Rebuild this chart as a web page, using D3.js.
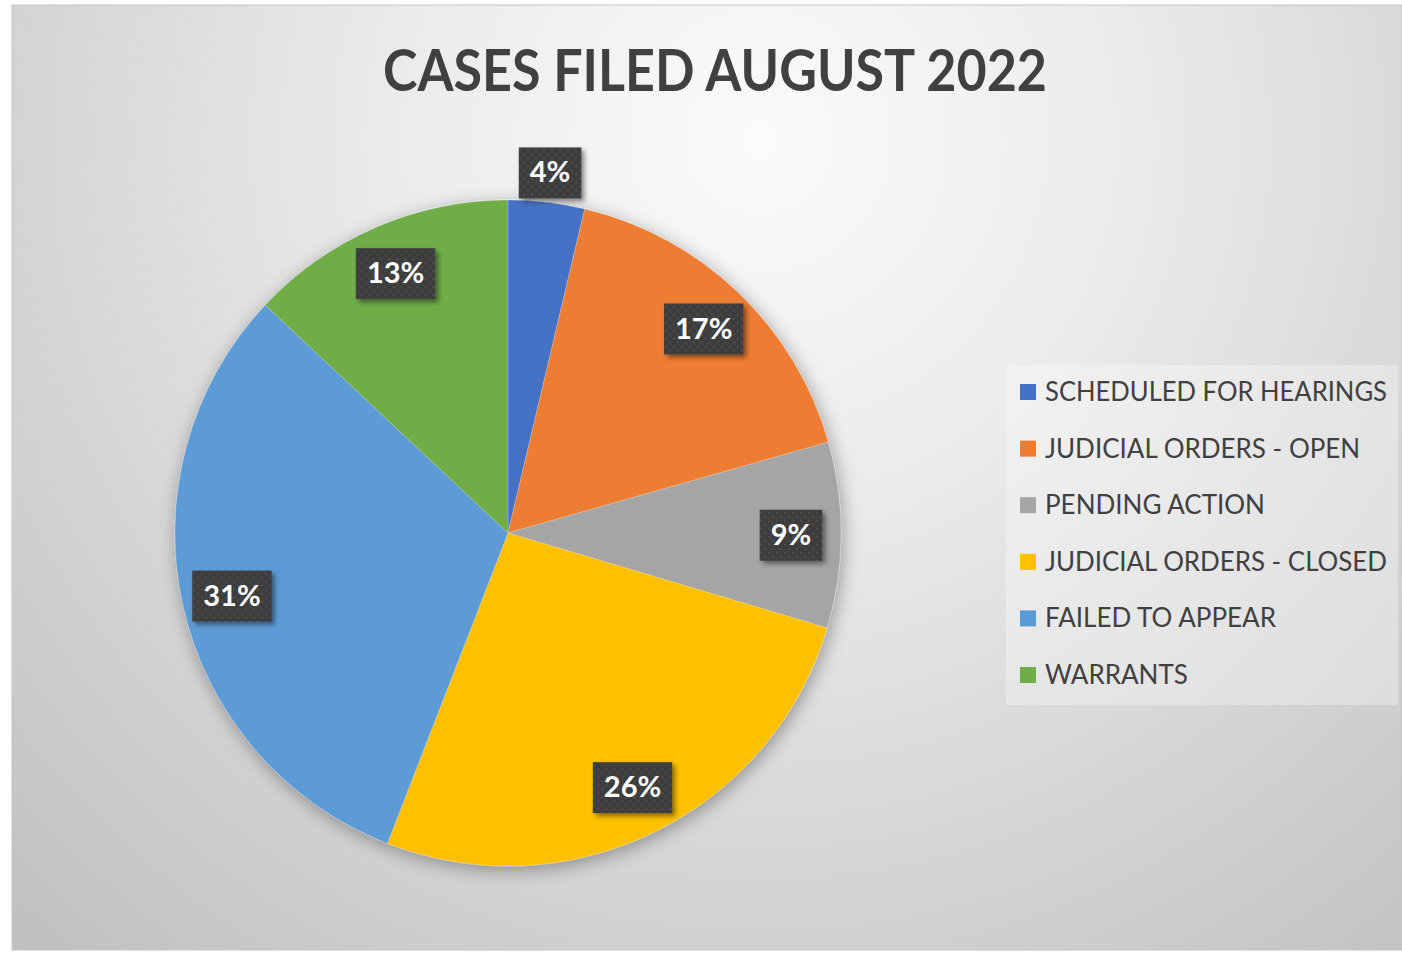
<!DOCTYPE html>
<html>
<head>
<meta charset="utf-8">
<script src="https://cdn.jsdelivr.net/npm/d3@7"></script>
<style>
  body { margin: 0; background: #fff; }
  text { font-family: Lato, "Open Sans", sans-serif; }
</style>
</head>
<body>
<svg id="chart" width="1402" height="953"></svg>
<script>
// data (shares in percent)
const categories = [
  "SCHEDULED FOR HEARINGS",
  "JUDICIAL ORDERS - OPEN",
  "PENDING ACTION",
  "JUDICIAL ORDERS - CLOSED",
  "FAILED TO APPEAR",
  "WARRANTS"
];
const values = [3.7, 16.9, 9.0, 26.3, 31.1, 13.0];
const colors = ["#4472C4", "#ED7D31", "#A5A5A5", "#FFC000", "#5B9BD5", "#70AD47"];
const title = "CASES FILED AUGUST 2022";

const width = 1402, height = 953;
const cx = 508, cy = 533, radius = 333;

const svg = d3.select("#chart");
const defs = svg.append("defs");

// background gradient
const bg = defs.append("radialGradient")
  .attr("id", "bg")
  .attr("gradientUnits", "userSpaceOnUse")
  .attr("cx", 760).attr("cy", 140).attr("r", 1100);
bg.append("stop").attr("offset", 0).attr("stop-color", "#fbfbfb");
bg.append("stop").attr("offset", 0.35).attr("stop-color", "#eaeaea");
bg.append("stop").attr("offset", 1).attr("stop-color", "#bfbfbf");

// pie shadow
const pf = defs.append("filter").attr("id", "pieShadow")
  .attr("x", "-20%").attr("y", "-20%").attr("width", "140%").attr("height", "140%");
pf.append("feDropShadow").attr("dx", 2).attr("dy", 4).attr("stdDeviation", 9)
  .attr("flood-color", "#000").attr("flood-opacity", 0.35);

// label box shadow
const lf = defs.append("filter").attr("id", "boxShadow")
  .attr("x", "-20%").attr("y", "-20%").attr("width", "150%").attr("height", "150%");
lf.append("feDropShadow").attr("dx", 3).attr("dy", 3).attr("stdDeviation", 2.5)
  .attr("flood-color", "#000").attr("flood-opacity", 0.45);

// dotted texture for the labels
const pat = defs.append("pattern").attr("id", "dots")
  .attr("patternUnits", "userSpaceOnUse").attr("width", 8).attr("height", 8);
pat.append("rect").attr("width", 8).attr("height", 8).attr("fill", "#3d3d3d");
pat.append("circle").attr("cx", 2).attr("cy", 2).attr("r", 1.1).attr("fill", "#505050");
pat.append("circle").attr("cx", 6).attr("cy", 6).attr("r", 1.1).attr("fill", "#505050");

// chart area
svg.append("rect")
  .attr("x", 12).attr("y", 5)
  .attr("width", width - 12).attr("height", 945)
  .attr("fill", "url(#bg)")
  .attr("stroke", "#c4c4c4").attr("stroke-width", 1);

// title
const t = svg.append("text")
  .attr("x", 715).attr("y", 91)
  .attr("text-anchor", "middle")
  .style("font-size", "58px")
  .style("font-weight", "bold")
  .attr("fill", "#404040")
  .text(title);
if (t.node().getComputedTextLength() > 664) {
  t.attr("textLength", 664).attr("lengthAdjust", "spacingAndGlyphs");
}

// pie
const total = d3.sum(values);
const pie = d3.pie().sort(null).value(d => d)(values);
const arc = d3.arc().innerRadius(0).outerRadius(radius);

const g = svg.append("g").attr("transform", `translate(${cx},${cy})`);

g.append("g")
  .attr("filter", "url(#pieShadow)")
  .selectAll("path")
  .data(pie)
  .join("path")
  .attr("d", arc)
  .attr("fill", (d, i) => colors[i])
  .attr("stroke", "rgba(255,255,255,0.2)")
  .attr("stroke-width", 1);

// data labels (best fit: small slices go outside)
const labels = g.append("g").selectAll("g")
  .data(pie)
  .join("g")
  .attr("transform", d => {
    const share = d.value / total;
    const r = share < 0.05 ? radius * 1.09 : radius * 0.85;
    const a = (d.startAngle + d.endAngle) / 2;
    return `translate(${Math.sin(a) * r},${-Math.cos(a) * r})`;
  });

labels.each(function(d) {
  const sel = d3.select(this);
  const txt = sel.append("text")
    .attr("text-anchor", "middle")
    .attr("y", 10)
    .style("font-size", "29px")
    .style("font-weight", "bold")
    .attr("fill", "#fff")
    .text(Math.round(d.value / total * 100) + "%");
  const w = txt.node().getComputedTextLength() + 22;
  sel.insert("rect", "text")
    .attr("x", -w / 2).attr("y", -25)
    .attr("width", w).attr("height", 51)
    .attr("fill", "url(#dots)")
    .attr("filter", "url(#boxShadow)");
});

// legend
const lg = svg.append("g").attr("transform", "translate(1006,365)");
lg.append("rect")
  .attr("width", 392).attr("height", 340)
  .attr("fill", "#ffffff").attr("fill-opacity", 0.3);

const legendY = d3.scalePoint()
  .domain(categories)
  .range([27, 310]);

const item = lg.selectAll("g.item")
  .data(categories)
  .join("g")
  .attr("class", "item")
  .attr("transform", d => `translate(0,${legendY(d)})`);

item.append("rect")
  .attr("x", 14).attr("y", -8)
  .attr("width", 16).attr("height", 16)
  .attr("fill", (d, i) => colors[i]);

item.append("text")
  .attr("x", 39).attr("y", 9)
  .style("font-size", "26px")
  .attr("fill", "#404040")
  .text(d => d)
  .each(function() {
    if (this.getComputedTextLength() > 342) {
      d3.select(this).attr("textLength", 342).attr("lengthAdjust", "spacingAndGlyphs");
    }
  });
</script>
</body>
</html>
